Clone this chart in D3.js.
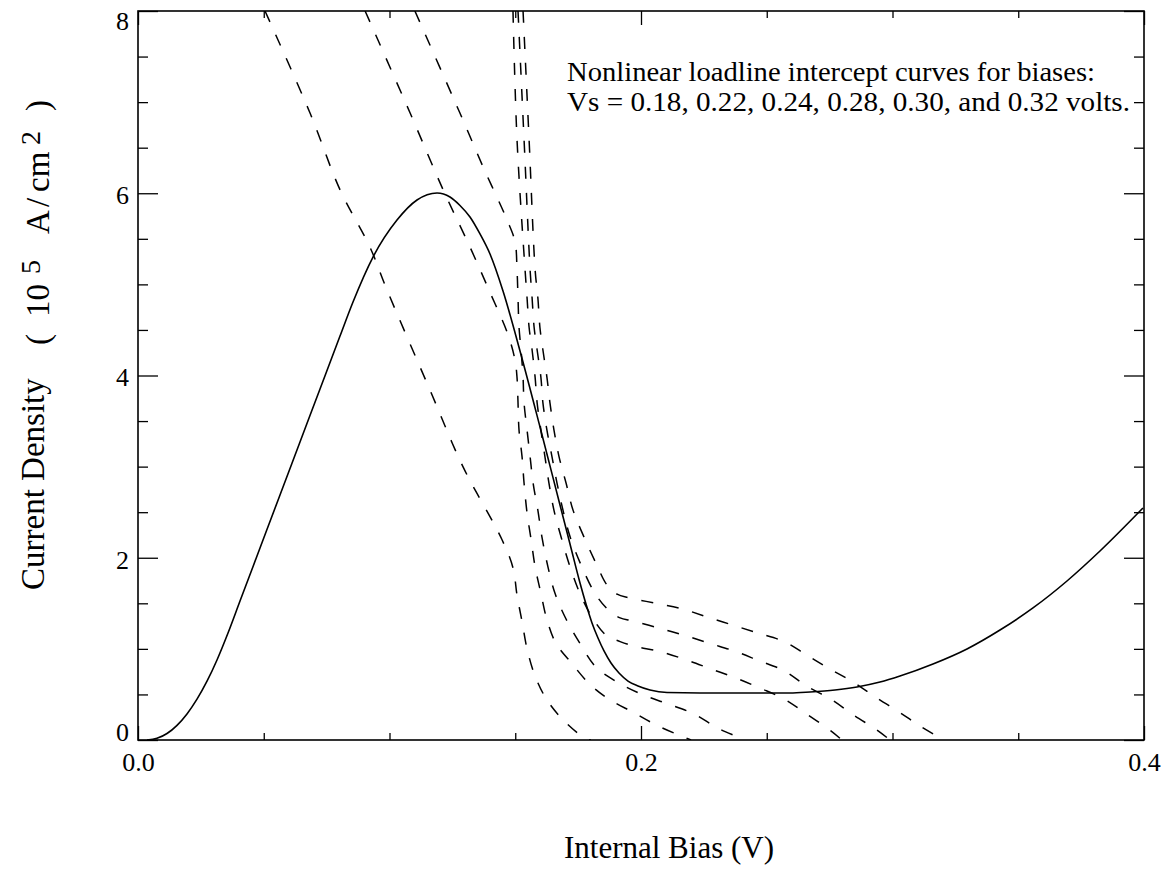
<!DOCTYPE html>
<html><head><meta charset="utf-8">
<script src="https://cdn.jsdelivr.net/npm/d3@7"></script>
<style>
body{margin:0;background:#fff}
text{font-family:"Liberation Serif","Times New Roman",Times,serif;fill:#000}
</style>
</head><body>
<svg id="chart" width="1169" height="875"></svg>
<script>
// ---- data (Internal Bias V, Current Density 1e5 A/cm^2) ----
const xMajorTicks = [0.0, 0.2, 0.4];
const xMinorTicks = [0.05, 0.1, 0.15, 0.25, 0.3, 0.35];
const yMajorTicks = [0, 2, 4, 6, 8];
const yMinorTicks = [0.5,1,1.5,2.5,3,3.5,4.5,5,5.5,6.5,7,7.5];

const ivCurve = [
 [0.00358,0.000],[0.00755,0.018],[0.01153,0.071],[0.01551,0.161],[0.01948,0.286],
 [0.02346,0.448],[0.02744,0.645],[0.03141,0.878],[0.03579,1.174],[0.04056,1.525],
 [0.04851,2.107],[0.05646,2.689],[0.06441,3.270],[0.07237,3.852],[0.08032,4.433],
 [0.08549,4.807],[0.09344,5.300],[0.10298,5.706],[0.11093,5.926],[0.11889,6.003],
 [0.12406,5.959],[0.12803,5.866],[0.13201,5.739],[0.13598,5.553],[0.13996,5.333],
 [0.14513,4.927],[0.15189,4.269],
 [0.15984,3.435],[0.16779,2.579],[0.17177,2.151],[0.17575,1.723],[0.17813,1.492],
 [0.18052,1.284],[0.18290,1.119],[0.18529,0.977],[0.18807,0.845],[0.19125,0.735],
 [0.19483,0.647],[0.19881,0.593],[0.20358,0.549],[0.21034,0.521],[0.22346,0.516],
 [0.24732,0.516],[0.25924,0.516],[0.26720,0.527],[0.27714,0.549],[0.28588,0.582],
 [0.29503,0.636],[0.30298,0.702],[0.31610,0.834],[0.32962,0.999],[0.34274,1.207],
 [0.35586,1.449],[0.36938,1.745],[0.38250,2.074],[0.39960,2.546]
];

const load018 = [
 [0.0505,8.00],[0.0684,6.88],[0.0803,6.04],[0.0922,5.41],[0.0990,4.94],[0.1161,3.84],
 [0.1292,3.00],[0.1447,2.20],[0.1491,1.89],[0.1507,1.59],[0.1527,1.30],[0.1547,1.00],
 [0.1579,0.70],[0.1626,0.44],[0.1694,0.21],[0.1777,0.02],[0.1801,0.00]
];
const load022 = [
 [0.0903,8.00],[0.1082,6.88],[0.1213,6.04],[0.1320,5.41],[0.1400,4.91],[0.1471,4.45],
 [0.1499,4.17],[0.1507,3.98],[0.1511,3.70],[0.1515,3.40],[0.1527,3.11],[0.1535,2.82],
 [0.1547,2.49],[0.1563,2.20],[0.1579,1.90],[0.1602,1.61],[0.1626,1.32],[0.1662,1.06],
 [0.1722,0.85],[0.1797,0.61],[0.1877,0.44],[0.1972,0.30],[0.2064,0.16],[0.2163,0.04],
 [0.2199,0.00]
];
const load024 = [
 [0.1101,8.00],[0.1280,6.88],[0.1372,6.29],[0.1467,5.71],[0.1499,5.47],[0.1507,5.16],
 [0.1511,4.85],[0.1515,4.53],[0.1523,4.28],[0.1531,3.98],[0.1535,3.70],[0.1547,3.40],
 [0.1559,3.11],[0.1571,2.82],[0.1590,2.52],[0.1606,2.23],[0.1630,1.90],[0.1658,1.61],
 [0.1698,1.35],[0.1753,1.08],[0.1821,0.80],[0.1909,0.63],[0.2004,0.50],[0.2103,0.40],
 [0.2207,0.29],[0.2306,0.13],[0.2394,0.02],[0.2406,0.00]
];
const load028 = [
 [0.1491,8.00],[0.1507,6.59],[0.1539,5.16],[0.1547,4.85],[0.1555,4.53],[0.1567,4.28],
 [0.1579,3.98],[0.1587,3.70],[0.1602,3.40],[0.1618,3.11],[0.1634,2.82],[0.1654,2.52],
 [0.1682,2.23],[0.1718,1.90],[0.1757,1.61],[0.1805,1.35],[0.1861,1.15],[0.1917,1.08],
 [0.1972,1.03],[0.2076,0.97],[0.2179,0.88],[0.2278,0.78],[0.2378,0.68],[0.2473,0.57],
 [0.2569,0.45],[0.2656,0.29],[0.2755,0.10],[0.2799,0.00]
];
const load030 = [
 [0.1511,8.00],[0.1535,6.59],[0.1559,5.16],[0.1567,4.85],[0.1575,4.53],[0.1587,4.28],
 [0.1602,3.98],[0.1610,3.70],[0.1626,3.40],[0.1646,3.11],[0.1666,2.82],[0.1690,2.52],
 [0.1718,2.23],[0.1765,1.90],[0.1817,1.61],[0.1869,1.43],[0.1917,1.34],[0.1964,1.31],
 [0.2068,1.23],[0.2171,1.15],[0.2274,1.06],[0.2378,0.97],[0.2469,0.87],[0.2569,0.76],
 [0.2660,0.59],[0.2759,0.44],[0.2847,0.27],[0.2938,0.11],[0.2990,0.00]
];
const load032 = [
 [0.1531,8.00],[0.1555,6.59],[0.1579,5.16],[0.1590,4.85],[0.1598,4.53],[0.1610,4.28],
 [0.1626,3.98],[0.1638,3.70],[0.1654,3.40],[0.1674,3.11],[0.1702,2.82],[0.1730,2.52],
 [0.1773,2.23],[0.1821,1.94],[0.1865,1.70],[0.1905,1.60],[0.1952,1.56],[0.2060,1.50],
 [0.2163,1.44],[0.2262,1.35],[0.2366,1.26],[0.2469,1.17],[0.2569,1.08],[0.2660,0.93],
 [0.2751,0.78],[0.2847,0.63],[0.2938,0.46],[0.3030,0.30],[0.3117,0.14],[0.3205,0.00]
];
const loadCurves = [load018, load022, load024, load028, load030, load032];

const annotation = [
 "Nonlinear loadline intercept curves for biases:",
 "Vs = 0.18, 0.22, 0.24, 0.28, 0.30, and 0.32 volts."
];
const annotationWidths = [528, 563];
const xTitle = "Internal Bias (V)";
const yTitleMain = "Current Density";
// pieces of the unit label: [text, isSuperscript]
const yTitleUnit = [["(",0],["10",0],["5",1],["A",0],["/",0],["cm",0],["2",1],[")",0]];

// ---- drawing ----
const svg = d3.select("#chart");
const L = 138, R = 1144, T = 11, B = 740;
const x = d3.scaleLinear().domain([0, 0.4]).range([L, R]);
const y = d3.scaleLinear().domain([0, 8]).range([B, T]);

svg.append("defs").append("clipPath").attr("id","clip")
  .append("rect").attr("x",L).attr("y",T).attr("width",R-L).attr("height",B-T);

// load lines (dashed)
const dashLine = d3.line().x(d => x(d[0])).y(d => y(d[1])).curve(d3.curveCatmullRom.alpha(0.5));
svg.append("g").attr("clip-path","url(#clip)")
  .selectAll("path").data(loadCurves).join("path")
  .attr("d", dashLine)
  .attr("fill","none").attr("stroke","#000").attr("stroke-width",1.5)
  .attr("stroke-dasharray","12,14");

// I-V curve (solid)
const solidLine = d3.line().x(d => x(d[0])).y(d => y(d[1])).curve(d3.curveMonotoneX);
svg.append("path").datum(ivCurve)
  .attr("clip-path","url(#clip)")
  .attr("d", solidLine)
  .attr("fill","none").attr("stroke","#000").attr("stroke-width",1.6);

// axes
function style(g){
  g.select(".domain").remove();
  g.selectAll(".tick line").attr("stroke","#000").attr("stroke-width",1.3);
  g.selectAll("text").style("font-family",'"Liberation Serif","Times New Roman",serif')
    .style("font-size","26px").attr("fill","#000");
}
const gxb = svg.append("g").attr("transform",`translate(0,${B})`)
  .call(d3.axisBottom(x).tickValues(xMajorTicks).tickSize(-14).tickFormat(d3.format(".1f")))
  .call(style);
gxb.selectAll("text").attr("y",31).attr("dy",null);
svg.append("g").attr("transform",`translate(0,${B})`)
  .call(d3.axisBottom(x).tickValues(xMinorTicks).tickSize(-7).tickFormat("")).call(style);
svg.append("g").attr("transform",`translate(0,${T})`)
  .call(d3.axisTop(x).tickValues(xMajorTicks).tickSize(-14).tickFormat("")).call(style);
svg.append("g").attr("transform",`translate(0,${T})`)
  .call(d3.axisTop(x).tickValues(xMinorTicks).tickSize(-7).tickFormat("")).call(style);

const gyl = svg.append("g").attr("transform",`translate(${L},0)`)
  .call(d3.axisLeft(y).tickValues(yMajorTicks).tickSize(-20).tickFormat(d3.format("d")))
  .call(style);
gyl.selectAll("text").attr("x",-9)
  .attr("dy", d => d === 8 ? "0.73em" : d === 0 ? "0em" : "0.4em");
svg.append("g").attr("transform",`translate(${L},0)`)
  .call(d3.axisLeft(y).tickValues(yMinorTicks).tickSize(-10).tickFormat("")).call(style);
svg.append("g").attr("transform",`translate(${R},0)`)
  .call(d3.axisRight(y).tickValues(yMajorTicks).tickSize(-20).tickFormat("")).call(style);
svg.append("g").attr("transform",`translate(${R},0)`)
  .call(d3.axisRight(y).tickValues(yMinorTicks).tickSize(-10).tickFormat("")).call(style);

// frame
svg.append("rect").attr("x",L).attr("y",T).attr("width",R-L).attr("height",B-T)
  .attr("fill","none").attr("stroke","#000").attr("stroke-width",1.6);

// annotation (two lines)
svg.append("g").selectAll("text").data(annotation).join("text")
  .attr("x",567).attr("y",(d,i)=> 81 + i*30)
  .style("font-size","26.5px")
  .attr("textLength",(d,i)=>annotationWidths[i])
  .attr("lengthAdjust","spacingAndGlyphs")
  .text(d=>d);

// x title
svg.append("text").attr("x",669).attr("y",858).attr("text-anchor","middle")
  .style("font-size","31px").text(xTitle);

// y title (rotated, reading bottom to top)
svg.append("text").attr("transform","translate(44,590) rotate(-90)")
  .style("font-size","33px").text(yTitleMain);
const unitStart = [345, 317, 274, 234, 207, 192, 145, 111];
svg.append("g").selectAll("text").data(yTitleUnit).join("text")
  .attr("transform",(d,i)=>`translate(${d[1] ? 40 : 49},${unitStart[i]}) rotate(-90)`)
  .style("font-size", d => d[1] ? "28px" : "33px")
  .text(d => d[0]);
</script>
</body></html>
